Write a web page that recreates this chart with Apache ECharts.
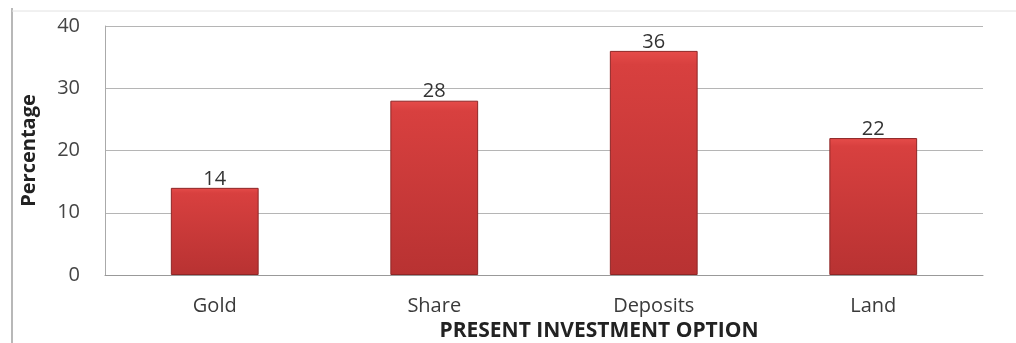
<!DOCTYPE html>
<html><head><meta charset="utf-8">
<script src="https://cdn.jsdelivr.net/npm/echarts@6/dist/echarts.min.js"></script>
<style>html,body{margin:0;padding:0;background:#fff;}#c{width:1016px;height:343px;}</style>
</head><body><div id="c"></div>
<script>
const categories = ['Gold', 'Share', 'Deposits', 'Land'];
const values = [14, 28, 36, 22];
const yTicks = [0, 10, 20, 30, 40];

const chart = echarts.init(document.getElementById('c'));
const font = '"Open Sans", "Liberation Sans", sans-serif';
chart.setOption({
  animation: false,
  backgroundColor: '#ffffff',
  graphic: [
    { type: 'line', shape: { x1: 12, y1: 8, x2: 12, y2: 343 }, style: { stroke: '#b8b8b8', lineWidth: 2 } },
    { type: 'line', shape: { x1: 12, y1: 11, x2: 1016, y2: 11 }, style: { stroke: '#e2e2e2', lineWidth: 1 } }
  ],
  grid: { left: 105, right: 33, top: 26, bottom: 68, outerBoundsMode: 'none', containLabel: false },
  xAxis: {
    type: 'category',
    data: categories,
    name: 'PRESENT INVESTMENT OPTION',
    nameLocation: 'middle',
    nameGap: 45,
    nameTextStyle: { fontFamily: font, fontWeight: 'bold', fontSize: 21, color: '#222', padding: [0, 0, 0, 110] },
    axisLine: { lineStyle: { color: '#999', width: 1 } },
    axisTick: { show: false },
    axisLabel: { fontFamily: font, fontSize: 20, color: '#3a3a3a', margin: 21 }
  },
  yAxis: {
    type: 'value',
    min: 0, max: 40, interval: 10,
    name: 'Percentage',
    nameLocation: 'middle',
    nameGap: 66,
    nameTextStyle: { fontFamily: font, fontWeight: 'bold', fontSize: 20, color: '#222' },
    axisLine: { show: true, lineStyle: { color: '#aaa', width: 1 } },
    axisTick: { show: false },
    axisLabel: { fontFamily: font, fontSize: 20, color: '#444', margin: 25,
      formatter: v => yTicks.includes(v) ? String(v) : '' },
    splitLine: { lineStyle: { color: '#b5b5b5', width: 1 } }
  },
  series: [{
    type: 'bar',
    data: values,
    barWidth: '40%',
    itemStyle: {
      color: new echarts.graphic.LinearGradient(0, 0, 0, 1, [
        { offset: 0, color: '#e64c4a' },
        { offset: 0.06, color: '#d8403f' },
        { offset: 1, color: '#b83232' }
      ]),
      borderColor: '#8e2626',
      borderWidth: 1
    },
    label: { show: true, position: 'top', distance: -1, fontFamily: font, fontSize: 20, color: '#333' }
  }]
});
</script></body></html>
